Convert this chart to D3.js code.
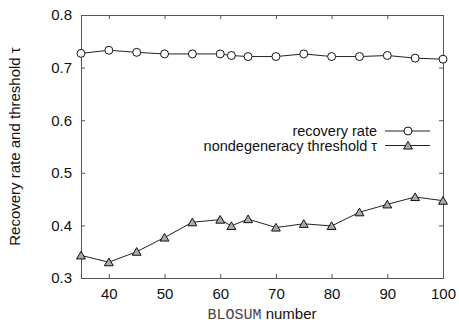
<!DOCTYPE html>
<html>
<head>
<meta charset="utf-8">
<script src="https://cdn.jsdelivr.net/npm/d3@7"></script>
<style>
  body { margin: 0; background: #fff; }
  text { font-family: "Liberation Sans", Arial, sans-serif; fill: #111; }
</style>
</head>
<body>
<svg id="chart" width="459" height="326"></svg>
<script>
// data
let blosum = [35, 40, 45, 50, 55, 60, 62, 65, 70, 75, 80, 85, 90, 95, 100];
let recoveryRate = [0.727, 0.733, 0.729, 0.726, 0.726, 0.726, 0.723, 0.721, 0.721, 0.726, 0.721, 0.721, 0.723, 0.718, 0.716];
let threshold = [0.343, 0.330, 0.350, 0.377, 0.406, 0.411, 0.399, 0.412, 0.396, 0.403, 0.399, 0.425, 0.440, 0.454, 0.447];
let xTicks = [35, 40, 50, 60, 70, 80, 90, 100];
let yTicks = [0.3, 0.4, 0.5, 0.6, 0.7, 0.8];
let seriesNames = ["recovery rate", "nondegeneracy threshold \u03c4"];

let margin = {top: 15, right: 16, bottom: 48, left: 81};
let width = 459, height = 326;
let fontSize = '15px';

let svg = d3.select('#chart');

let x = d3.scaleLinear().domain([35, 100]).range([margin.left, width - margin.right]);
let y = d3.scaleLinear().domain([0.3, 0.8]).range([height - margin.bottom, margin.top]);

let frameColor = '#555';

// axes with inward ticks
let axBottom = svg.append('g')
    .attr('transform', 'translate(0,' + y(0.3) + ')')
    .call(d3.axisBottom(x).tickValues(xTicks).tickSize(-4).tickPadding(10).tickFormat(d3.format('d')));
let axTop = svg.append('g')
    .attr('transform', 'translate(0,' + y(0.8) + ')')
    .call(d3.axisTop(x).tickValues(xTicks).tickSize(-4).tickFormat(''));
let axLeft = svg.append('g')
    .attr('transform', 'translate(' + x(35) + ',0)')
    .call(d3.axisLeft(y).tickValues(yTicks).tickSize(-4).tickPadding(9).tickFormat(d3.format('.1f')));
let axRight = svg.append('g')
    .attr('transform', 'translate(' + x(100) + ',0)')
    .call(d3.axisRight(y).tickValues(yTicks).tickSize(-4).tickFormat(''));

[axBottom, axTop, axLeft, axRight].forEach(g => {
    g.select('.domain').attr('stroke', frameColor);
    g.selectAll('.tick line').attr('stroke', frameColor);
    g.selectAll('.tick text').style('font-size', fontSize).attr('fill', '#111')
        .style('font-family', '"Liberation Sans", Arial, sans-serif');
});
// the 35 tick carries no label in the reference
axBottom.selectAll('.tick text').filter(d => d === 35).remove();

// axis titles
svg.append('text')
    .attr('transform', 'translate(20,' + ((y(0.3) + y(0.8)) / 2) + ') rotate(-90)')
    .attr('text-anchor', 'middle')
    .style('font-size', fontSize)
    .text('Recovery rate and threshold \u03c4');

let xt = svg.append('text')
    .attr('x', (x(35) + x(100)) / 2)
    .attr('y', 319)
    .attr('text-anchor', 'middle')
    .style('font-size', fontSize);
xt.append('tspan').style('font-family', '"Liberation Mono", "DejaVu Sans Mono", monospace').attr('fill', '#444').text('BLOSUM');
xt.append('tspan').text(' number');

// lines
let line = d3.line().x(d => x(d[0])).y(d => y(d[1]));
let recPts = blosum.map((b, i) => [b, recoveryRate[i]]);
let thrPts = blosum.map((b, i) => [b, threshold[i]]);

svg.append('path').datum(recPts).attr('d', line)
    .attr('fill', 'none').attr('stroke', '#222').attr('stroke-width', 1);
svg.append('path').datum(thrPts).attr('d', line)
    .attr('fill', 'none').attr('stroke', '#222').attr('stroke-width', 1);

let circle = d3.symbol().type(d3.symbolCircle).size(50);
let tri = d3.symbol().type(d3.symbolTriangle).size(34);

svg.selectAll('.rec').data(recPts).enter()
    .append('path').attr('class', 'rec')
    .attr('d', circle)
    .attr('transform', d => 'translate(' + x(d[0]) + ',' + y(d[1]) + ')')
    .attr('fill', '#fff').attr('stroke', '#111').attr('stroke-width', 1);

svg.selectAll('.thr').data(thrPts).enter()
    .append('path').attr('class', 'thr')
    .attr('d', tri)
    .attr('transform', d => 'translate(' + x(d[0]) + ',' + (y(d[1]) + 1) + ')')
    .attr('fill', '#aaa').attr('stroke', '#111').attr('stroke-width', 1);

// legend
let legend = svg.append('g');
let rows = [{name: seriesNames[0], sym: circle, fill: '#fff'}, {name: seriesNames[1], sym: tri, fill: '#aaa'}];
rows.forEach((r, i) => {
    let ly = 131 + i * 14.5;
    legend.append('text').attr('x', 377).attr('y', ly).attr('dy', '0.35em')
        .attr('text-anchor', 'end').style('font-size', '14.5px').text(r.name);
    legend.append('line').attr('x1', 385).attr('x2', 430).attr('y1', ly).attr('y2', ly)
        .attr('stroke', '#222');
    legend.append('path').attr('d', r.sym)
        .attr('transform', 'translate(408,' + (ly + (i ? 1 : 0)) + ')')
        .attr('fill', r.fill).attr('stroke', '#111');
});
</script>
</body>
</html>
